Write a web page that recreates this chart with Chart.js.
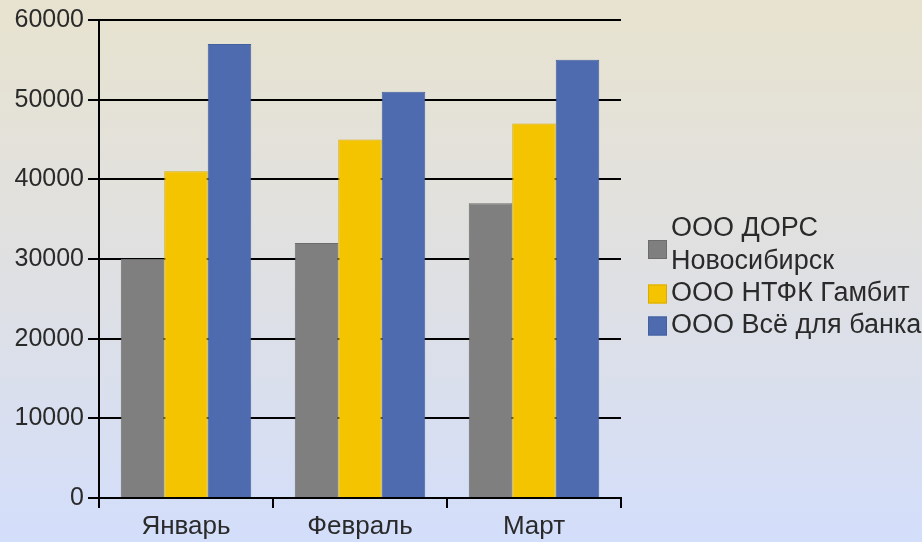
<!DOCTYPE html>
<html>
<head>
<meta charset="utf-8">
<script src="https://cdn.jsdelivr.net/npm/chart.js@4/dist/chart.umd.min.js"></script>
<style>
  html, body { margin: 0; padding: 0; }
  #wrap { width: 922px; height: 542px; }
</style>
</head>
<body>
<div id="wrap"><canvas id="chart" width="922" height="542"></canvas></div>
<script>
const months = ['Январь', 'Февраль', 'Март'];
const seriesNames = ['ООО ДОРС Новосибирск', 'ООО НТФК Гамбит', 'ООО Всё для банка'];
const dorsValues = [30000, 32000, 37000];
const gambitValues = [41000, 45000, 47000];
const bankValues = [57000, 51000, 55000];

const fillColors = ['#7f7f7f', '#f5c400', '#4f6bb0'];
const edgeColors = ['#6c6c6c', '#d9ad00', '#43609f'];
const textColor = '#2a2a2a';
const fontFamily = '"Liberation Sans", Arial, sans-serif';

// gradient page background, beige on top to pale blue at the bottom
const backdrop = {
  id: 'backdrop',
  beforeDraw(chart) {
    const ctx = chart.ctx;
    const g = ctx.createLinearGradient(0, 0, 0, chart.height);
    g.addColorStop(0, '#e8e3cf');
    g.addColorStop(0.5, '#dfe0e2');
    g.addColorStop(1, '#d3defb');
    ctx.save();
    ctx.fillStyle = g;
    ctx.fillRect(0, 0, chart.width, chart.height);
    ctx.restore();
  }
};

function wrapText(ctx, text, maxWidth) {
  const words = text.split(' ');
  const lines = [];
  let line = '';
  for (const w of words) {
    const test = line ? line + ' ' + w : w;
    if (line && ctx.measureText(test).width > maxWidth) {
      lines.push(line);
      line = w;
    } else {
      line = test;
    }
  }
  if (line) lines.push(line);
  return lines;
}

// legend on the right, with wrapped labels
const sideLegend = {
  id: 'sideLegend',
  afterDraw(chart) {
    const ctx = chart.ctx;
    const boxX = 648, box = 19, textX = 671, lineH = 33;
    let y = 229;
    ctx.save();
    ctx.font = '27px ' + fontFamily;
    ctx.textBaseline = 'middle';
    ctx.textAlign = 'left';
    chart.data.datasets.forEach((ds) => {
      const lines = wrapText(ctx, ds.label, 252);
      const mid = y + (lines.length - 1) * lineH / 2 + (lines.length > 1 ? 4 : 0);
      ctx.fillStyle = ds.backgroundColor;
      ctx.fillRect(boxX, mid - box / 2, box, box);
      ctx.strokeStyle = ds.borderColor;
      ctx.lineWidth = 1;
      ctx.strokeRect(boxX + 0.5, mid - box / 2 + 0.5, box - 1, box - 1);
      ctx.fillStyle = textColor;
      lines.forEach((l, k) => ctx.fillText(l, textX, y + k * lineH));
      y += lines.length * lineH - 1;
    });
    ctx.restore();
  }
};

const seriesValues = [dorsValues, gambitValues, bankValues];

new Chart(document.getElementById('chart'), {
  type: 'bar',
  data: {
    labels: months,
    datasets: seriesNames.map((name, i) => ({
      label: name,
      data: seriesValues[i],
      backgroundColor: fillColors[i],
      borderColor: edgeColors[i],
      borderWidth: 1,
      categoryPercentage: 0.75,
      barPercentage: 1
    }))
  },
  options: {
    responsive: false,
    animation: false,
    layout: { padding: { left: 0, right: 301, top: 20, bottom: 0 } },
    plugins: {
      legend: { display: false },
      tooltip: { enabled: false }
    },
    scales: {
      x: {
        offset: true,
        grid: {
          offset: true,
          drawOnChartArea: false,
          drawTicks: true,
          tickLength: 10,
          color: '#000',
          lineWidth: 2
        },
        border: { display: true, color: '#000', width: 2 },
        ticks: {
          color: textColor,
          padding: 3,
          font: { family: fontFamily, size: 26 }
        },
        afterFit(scale) { scale.height = 44; }
      },
      y: {
        min: 0,
        max: 60000,
        ticks: {
          stepSize: 10000,
          color: textColor,
          padding: 4,
          font: { family: fontFamily, size: 25 },
          callback: (v) => String(v)
        },
        grid: {
          color: '#000',
          lineWidth: 2,
          tickLength: 11
        },
        border: { display: true, color: '#000', width: 2 },
        afterFit(scale) { scale.width = 99; }
      }
    }
  },
  plugins: [backdrop, sideLegend]
});
</script>
</body>
</html>
